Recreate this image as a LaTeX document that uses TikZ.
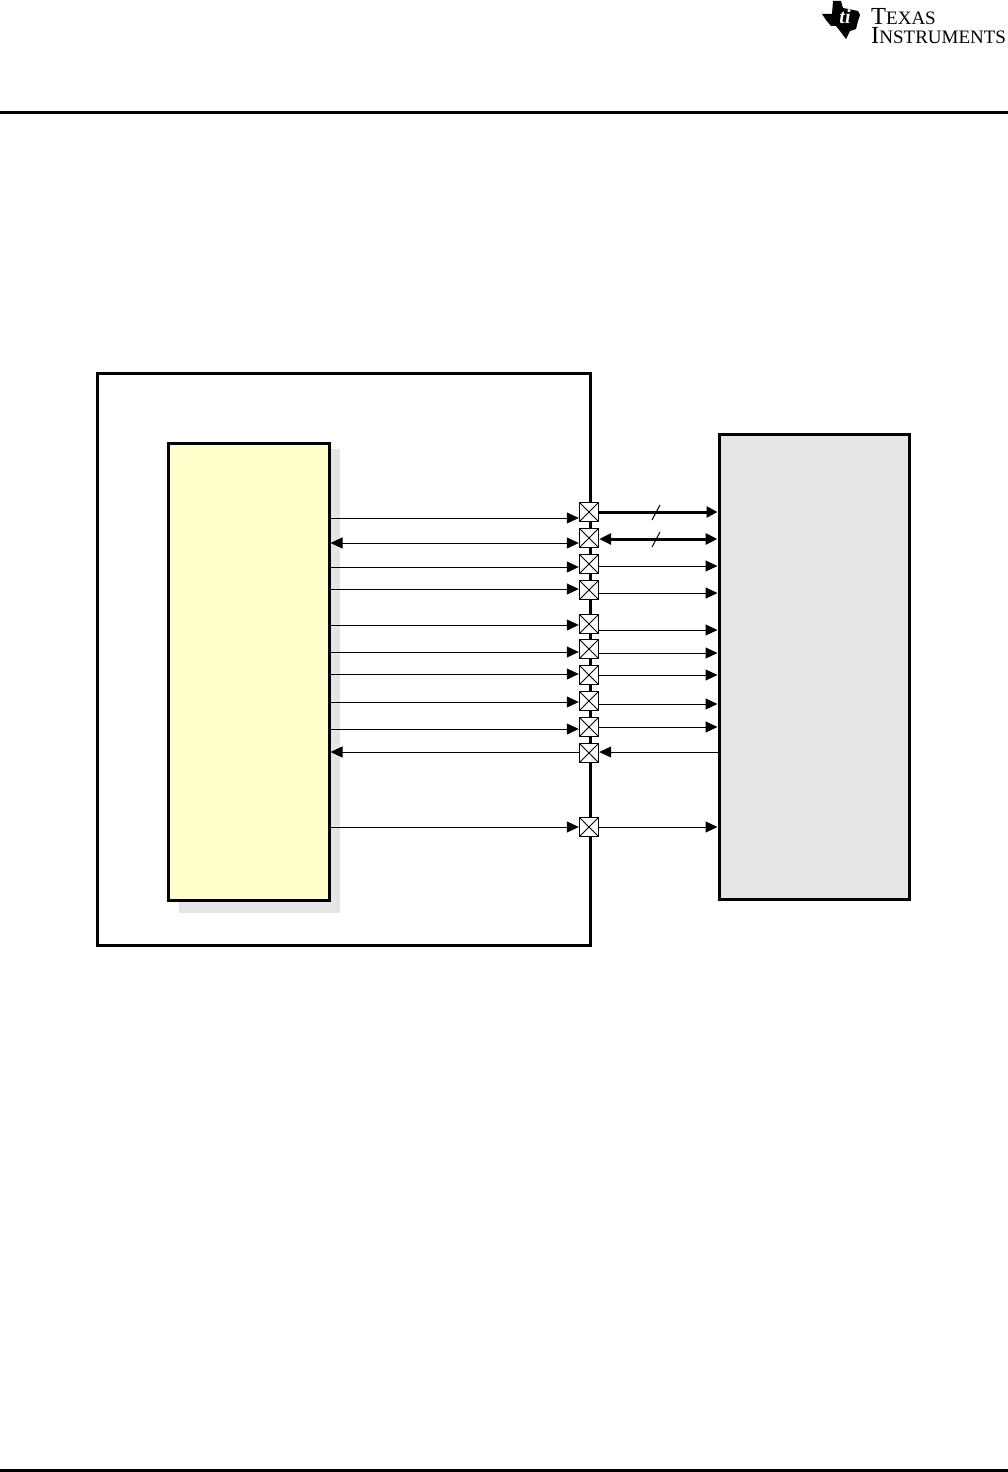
\documentclass[tikz,border=0pt]{standalone}
\usepackage{fontspec}
\setmainfont{Liberation Serif}
\usepackage{tikz}
\usetikzlibrary{
	arrows.meta,
	positioning,
	calc
}
\definecolor{socyellow}{HTML}{FFFFCC}
\definecolor{boxgray}{HTML}{E5E5E5}
\newcommand{\logocap}[1]{{\fontsize{24.5pt}{19pt}\selectfont #1}}

\begin{document}
\begin{tikzpicture}[
				x=1pt, y=-1pt,
				block/.style={
					rectangle, draw, line width=3pt, anchor=north west,
					inner sep=0pt
				},
				devicebox/.style={
					block, fill=white, minimum width=493pt, minimum height=572pt
				},
				socbox/.style={
					block, fill=socyellow, minimum width=161pt, minimum height=457pt
				},
				shadowbox/.style={
					rectangle, fill=boxgray, anchor=north west, inner sep=0pt,
					minimum width=161pt, minimum height=464pt
				},
				memorybox/.style={
					block, fill=boxgray, minimum width=190pt, minimum height=465pt
				},
				pad/.style={
					rectangle, draw, fill=white, line width=1.4pt, inner sep=0pt,
					minimum size=19pt,
					path picture={
						\draw[line width=0.9pt] (path picture bounding box.north west) -- (path picture bounding box.south east);
						\draw[line width=0.9pt] (path picture bounding box.north east) -- (path picture bounding box.south west);
					}
				},
				arrow/.style={-{Triangle[length=12pt,width=11pt]}, line width=1pt, black},
				dualarrow/.style={{Triangle[length=12pt,width=11pt]}-{Triangle[length=12pt,width=11pt]}, line width=1pt, black},
				busarrow/.style={arrow, line width=3pt, -{Triangle[length=11pt,width=11pt]}},
				dualbusarrow/.style={dualarrow, line width=3pt},
				busmark/.style={line width=1pt},
				rule/.style={line width=3pt}
				]
				
				% page size
				\useasboundingbox (0,0) rectangle (1008,1472);
				
				% page rules
				\coordinate (topleft) at (0,112);
				\coordinate (topright) at (1008,112);
				\coordinate (bottomleft) at (0,1470);
				\coordinate (bottomright) at (1008,1470);
				\draw[rule] (topleft) -- (topright);
				\draw[rule] (bottomleft) -- (bottomright);
				
				% logo
				\fill (822,14) -- (832,14) -- (833,1) -- (841,1) -- (843,8) -- (858,11) -- (860,15) -- (858,21) -- (856,29) -- (850,31) -- (846,39) -- (840,31) -- (836,26) -- (831,26) -- (826,20) -- cycle;
				\node[inner sep=0pt, text=white] (ti) at (845,17) {\fontsize{20pt}{20pt}\selectfont\itshape\bfseries ti};
				\node[anchor=west, inner sep=0pt, align=left, font=\fontsize{19pt}{19.5pt}\selectfont] (company) at (871,26) {\logocap{T}EXAS\\\logocap{I}NSTRUMENTS};
				
				% device
				\node[devicebox] (device) at (95.5,371.5) {};
				
				% soc with its shadow
				\node[shadowbox] (shadow) at (179,449) {};
				\node[socbox] (soc) at (166.5,441.5) {};
				
				% memory
				\node[memorybox] (memory) at (717.5,432.5) {};
				
				% pads
				\node[pad] (pad1) at (589,512) {};
				\node[pad] (pad2) at (589,538) {};
				\node[pad] (pad3) at (589,564) {};
				\node[pad] (pad4) at (589,590) {};
				\node[pad] (pad5) at (589,624) {};
				\node[pad] (pad6) at (589,649) {};
				\node[pad] (pad7) at (589,675) {};
				\node[pad] (pad8) at (589,701) {};
				\node[pad] (pad9) at (589,727) {};
				\node[pad] (pad10) at (589,753) {};
				\node[pad] (pad11) at (589,827) {};
				
				% signal heights on the soc side
				\coordinate (in1) at (450,518);
				\coordinate (in2) at (450,543);
				\coordinate (in3) at (450,567);
				\coordinate (in4) at (450,589);
				\coordinate (in5) at (450,625);
				\coordinate (in6) at (450,652);
				\coordinate (in7) at (450,674);
				\coordinate (in8) at (450,702);
				\coordinate (in9) at (450,729);
				\coordinate (in10) at (450,752);
				\coordinate (in11) at (450,827);
				
				% signal heights on the memory side
				\coordinate (out1) at (656,512);
				\coordinate (out2) at (656,539);
				\coordinate (out3) at (656,566);
				\coordinate (out4) at (656,593);
				\coordinate (out5) at (656,630);
				\coordinate (out6) at (656,653);
				\coordinate (out7) at (656,675);
				\coordinate (out8) at (656,704);
				\coordinate (out9) at (656,727);
				\coordinate (out10) at (656,752);
				\coordinate (out11) at (656,827);
				
				% soc to pads
				\draw[arrow] (soc.east |- in1) -- (pad1.west |- in1);
				\draw[dualarrow] (soc.east |- in2) -- (pad2.west |- in2);
				\draw[arrow] (soc.east |- in3) -- (pad3.west |- in3);
				\draw[arrow] (soc.east |- in4) -- (pad4.west |- in4);
				\draw[arrow] (soc.east |- in5) -- (pad5.west |- in5);
				\draw[arrow] (soc.east |- in6) -- (pad6.west |- in6);
				\draw[arrow] (soc.east |- in7) -- (pad7.west |- in7);
				\draw[arrow] (soc.east |- in8) -- (pad8.west |- in8);
				\draw[arrow] (soc.east |- in9) -- (pad9.west |- in9);
				\draw[arrow] (pad10.west |- in10) -- (soc.east |- in10);
				\draw[arrow] (soc.east |- in11) -- (pad11.west |- in11);
				
				% pads to memory
				\draw[busarrow] (pad1.east |- out1) -- (memory.west |- out1);
				\draw[dualbusarrow] (pad2.east |- out2) -- (memory.west |- out2);
				\draw[arrow] (pad3.east |- out3) -- (memory.west |- out3);
				\draw[arrow] (pad4.east |- out4) -- (memory.west |- out4);
				\draw[arrow] (pad5.east |- out5) -- (memory.west |- out5);
				\draw[arrow] (pad6.east |- out6) -- (memory.west |- out6);
				\draw[arrow] (pad7.east |- out7) -- (memory.west |- out7);
				\draw[arrow] (pad8.east |- out8) -- (memory.west |- out8);
				\draw[arrow] (pad9.east |- out9) -- (memory.west |- out9);
				\draw[arrow] (memory.west |- out10) -- (pad10.east |- out10);
				\draw[arrow] (pad11.east |- out11) -- (memory.west |- out11);
				
				% bus marks
				\draw[busmark] ([shift={(-4,8)}]out1) -- ([shift={(4,-7)}]out1);
				\draw[busmark] ([shift={(-4,8)}]out2) -- ([shift={(4,-7)}]out2);
			\end{tikzpicture}
\end{document}
